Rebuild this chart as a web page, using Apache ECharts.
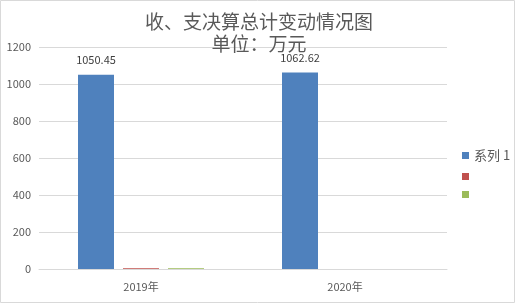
<!DOCTYPE html>
<html><head><meta charset="utf-8">
<script src="https://cdn.jsdelivr.net/npm/echarts@6/dist/echarts.min.js"></script>
<style>html,body{margin:0;padding:0;background:#fff}#c{width:518px;height:304px}</style>
</head><body><div id="c"></div>
<script>
const categories = ['2019年', '2020年'];
const seriesNames = ['系列 1', 's2', 's3'];
const series1 = [1050.45, 1062.62];
const series2 = [4, 0];
const series3 = [4, 0];
const yTicks = [0, 200, 400, 600, 800, 1000, 1200];
const colors = ['#4f81bd', '#c0504d', '#9bbb59'];

const chart = echarts.init(document.getElementById('c'));
const font = '"Microsoft YaHei","Noto Sans CJK SC",sans-serif';
chart.setOption({
  animation: false,
  color: colors,
  textStyle: {fontFamily: font},
  title: {
    text: '收、支决算总计变动情况图\n单位：万元',
    left: 'center', top: 6,
    textStyle: {fontSize: 19, fontWeight: 'normal', color: '#595959', lineHeight: 22, fontFamily: font}
  },
  graphic: [{type: 'rect', shape: {x: 0.5, y: 0.5, width: 514, height: 302}, style: {fill: 'none', stroke: '#d9d9d9', lineWidth: 1}, silent: true}],
  legend: {
    orient: 'vertical', left: 457, top: 144, itemWidth: 7, itemHeight: 7, itemGap: 11,
    icon: 'rect',
    data: seriesNames,
    formatter: n => n === '系列 1' ? n : '',
    textStyle: {fontSize: 13, color: '#595959', fontFamily: font}
  },
  grid: {left: 39, right: 71, top: 47, bottom: 35, containLabel: false},
  xAxis: {
    type: 'category', data: categories,
    axisLine: {lineStyle: {color: '#d9d9d9'}}, axisTick: {show: false},
    axisLabel: {color: '#595959', fontSize: 11, margin: 12, fontFamily: font}
  },
  yAxis: {
    type: 'value', min: yTicks[0], max: yTicks[yTicks.length - 1], interval: 200,
    axisLine: {show: false}, axisTick: {show: false},
    splitLine: {lineStyle: {color: '#d9d9d9'}},
    axisLabel: {color: '#595959', fontSize: 11, margin: 8, fontFamily: font, formatter: v => String(v)}
  },
  series: [
    {name: seriesNames[0], type: 'bar', data: series1, barWidth: 36, barGap: '25%',
     label: {show: true, position: 'top', distance: 9, color: '#404040', fontSize: 11, fontFamily: font}},
    {name: seriesNames[1], type: 'bar', data: series2, barWidth: 36, barGap: '25%'},
    {name: seriesNames[2], type: 'bar', data: series3, barWidth: 36, barGap: '25%'}
  ]
});
</script></body></html>
